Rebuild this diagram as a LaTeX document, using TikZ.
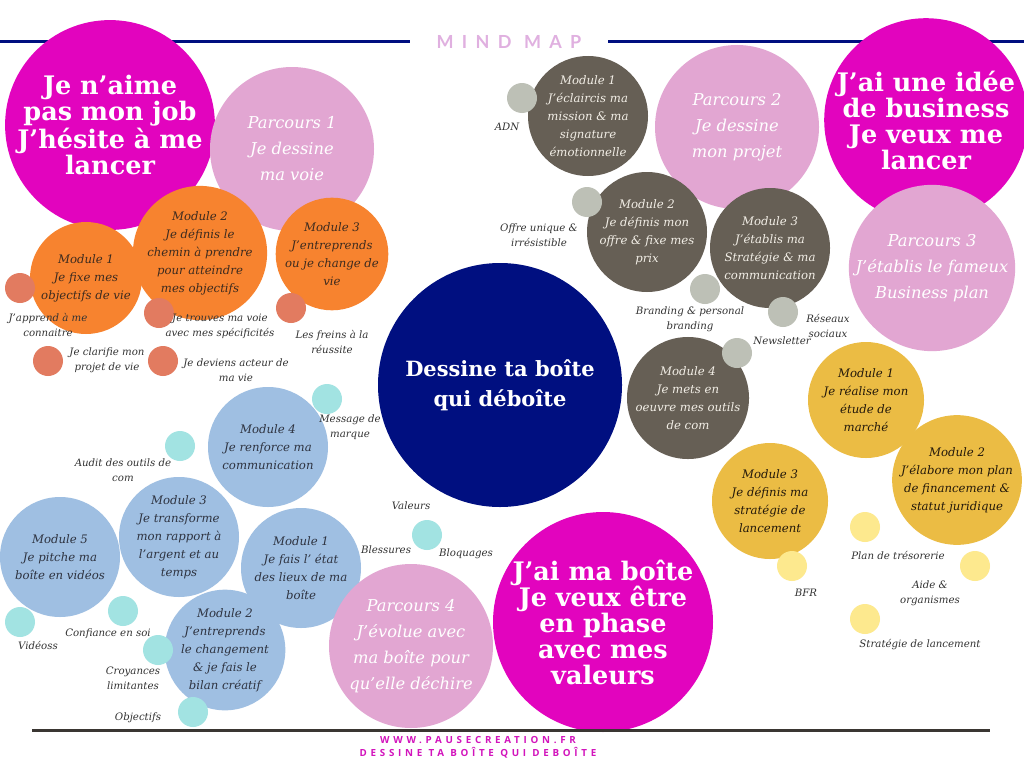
\documentclass[tikz,border=0pt]{standalone}
\usepackage{fontspec}
\setmainfont{DejaVu Serif}
\newfontfamily\titlefont[LetterSpace=46]{Lato}
\newfontfamily\footfont[LetterSpace=38]{Open Sans}

\definecolor{goalmag}{HTML}{E204BE}
\definecolor{parcpink}{HTML}{E2A6D2}
\definecolor{orangemod}{HTML}{F7832F}
\definecolor{salmondot}{HTML}{E27B60}
\definecolor{navycore}{HTML}{000F80}
\definecolor{greymod}{HTML}{665F55}
\definecolor{greydot}{HTML}{BDC0B6}
\definecolor{yellowmod}{HTML}{EBBC44}
\definecolor{yellowdot}{HTML}{FDE98E}
\definecolor{bluemod}{HTML}{9FBFE2}
\definecolor{cyandot}{HTML}{A2E3E2}
\definecolor{tagtext}{HTML}{333333}
\definecolor{footmag}{HTML}{D214BC}
\definecolor{footrule}{HTML}{3A3632}

\tikzstyle{bubble} = [circle, inner sep=0, align=center]
\tikzstyle{goal} = [bubble, fill=goalmag, text=white, font=\bfseries\fontsize{25.5}{26}\selectfont]
\tikzstyle{parcours} = [bubble, fill=parcpink, text=white, minimum size=164pt, font=\itshape\fontsize{16.3}{26}\selectfont]
\tikzstyle{module} = [bubble, minimum size=120pt, font=\itshape\fontsize{11.7}{18}\selectfont]
\tikzstyle{omod} = [module, fill=orangemod, text={rgb,255:red,61;green,43;blue,31}, minimum size=112pt]
\tikzstyle{gmod} = [module, fill=greymod, text={rgb,255:red,242;green,238;blue,230}]
\tikzstyle{ymod} = [module, fill=yellowmod, text={rgb,255:red,36;green,25;blue,11}, minimum size=116pt]
\tikzstyle{bmod} = [module, fill=bluemod, text={rgb,255:red,46;green,51;blue,64}]
\tikzstyle{dot} = [circle, inner sep=0, minimum size=30pt]
\tikzstyle{tag} = [inner sep=0, align=center, text=tagtext, font=\itshape\fontsize{10.2}{15}\selectfont]
\tikzstyle{rule} = [line width=3pt]

\begin{document}
\begin{tikzpicture}[x=1pt,y=-1pt]
  \useasboundingbox[fill=white] (0,0) rectangle (1024,768);

%Header
	\node[text={rgb,255:red,224;green,176;blue,224}, font=\titlefont\bfseries\fontsize{18}{18}\selectfont] (title) at (509,42) {MIND MAP};
	\draw[rule,navycore] (0,42) -- (410,42);
	\draw[rule,navycore] (608,42) -- (1024,42);

%Parcours 1
	\node[goal, minimum size=206pt] (goal1) at (110,125) {Je n'aime\\pas mon job\\J'hésite à me\\lancer};
	\node[parcours] (parc1) at (292,149) {Parcours 1\\Je dessine\\ma voie};
	\node[omod] (o1) at (86,278) {Module 1\\Je fixe mes\\objectifs de vie};
	\node[omod] (o2) at (200,253) {Module 2\\Je définis le\\chemin à prendre\\pour atteindre\\mes objectifs};
	\node[omod] (o3) at (332,254) {Module 3\\J'entreprends\\ou je change de\\vie};
	\node[dot, fill=salmondot] (s1) at (20,288) {};
	\node[dot, fill=salmondot] (s2) at (159,313) {};
	\node[dot, fill=salmondot] (s3) at (291,308) {};
	\node[dot, fill=salmondot] (s4) at (48,361) {};
	\node[dot, fill=salmondot] (s5) at (163,361) {};
	\node[tag] (t1) at (48,325) {J'apprend à me\\connaitre};
	\node[tag] (t2) at (107,360) {Je clarifie mon\\projet de vie};
	\node[tag] (t3) at (220,326) {Je trouves ma voie\\avec mes spécificités};
	\node[tag] (t4) at (236,370) {Je deviens acteur de\\ma vie};
	\node[tag] (t5) at (332,342) {Les freins à la\\réussite};

%Parcours 2
	\node[parcours] (parc2) at (737,127) {Parcours 2\\Je dessine\\mon projet};
	\node[gmod] (g1) at (588,116) {Module 1\\J'éclaircis ma\\mission \& ma\\signature\\émotionnelle};
	\node[gmod] (g2) at (647,232) {Module 2\\Je définis mon\\offre \& fixe mes\\prix};
	\node[gmod] (g3) at (770,248) {Module 3\\J'établis ma\\Stratégie \& ma\\communication};
	\node[gmod] (g4) at (688,398) {Module 4\\Je mets en\\oeuvre mes outils\\de com};
	\node[dot, fill=greydot] (d1) at (522,98) {};
	\node[dot, fill=greydot] (d2) at (587,202) {};
	\node[dot, fill=greydot] (d3) at (705,289) {};
	\node[dot, fill=greydot] (d4) at (783,312) {};
	\node[dot, fill=greydot] (d5) at (737,353) {};
	\node[tag] (t6) at (507,127) {ADN};
	\node[tag] (t7) at (539,235) {Offre unique \&\\irrésistible};
	\node[tag] (t8) at (690,319) {Branding \& personal\\branding};
	\node[tag] (t9) at (782,341) {Newsletter};
	\node[tag] (t10) at (828,326) {Réseaux\\sociaux};

%Parcours 3
	\node[goal, minimum size=196pt] (goal2) at (926,120) {J'ai une idée\\de business\\Je veux me\\lancer};
	\node[parcours] (parc3) at (932,268) {Parcours 3\\J'établis le fameux\\Business plan};
	\node[ymod] (y1) at (866,400) {Module 1\\Je réalise mon\\étude de\\marché};
	\node[ymod] (y2) at (957,480) {Module 2\\J'élabore mon plan\\de financement \&\\statut juridique};
	\node[ymod] (y3) at (770,501) {Module 3\\Je définis ma\\stratégie de\\lancement};
	\node[dot, fill=yellowdot] (p1) at (865,527) {};
	\node[dot, fill=yellowdot] (p2) at (975,566) {};
	\node[dot, fill=yellowdot] (p3) at (792,566) {};
	\node[dot, fill=yellowdot] (p4) at (865,619) {};
	\node[tag] (t11) at (898,555) {Plan de trésorerie};
	\node[tag] (t12) at (930,593) {Aide \&\\organismes};
	\node[tag] (t13) at (806,593) {BFR};
	\node[tag] (t14) at (920,645) {Stratégie de lancement};

%Centre
	\node[bubble, fill=navycore, text=white, minimum size=244pt, font=\bfseries\fontsize{21}{30}\selectfont] (core) at (500,385) {Dessine ta boîte\\qui déboîte};

%Parcours 4
	\node[bmod] (b4) at (268,447) {Module 4\\Je renforce ma\\communication};
	\node[bmod] (b3) at (179,537) {Module 3\\Je transforme\\mon rapport à\\l'argent et au\\temps};
	\node[bmod] (b5) at (60,557) {Module 5\\Je pitche ma\\boîte en vidéos};
	\node[bmod] (b1) at (301,568) {Module 1\\Je fais l' état\\des lieux de ma\\boîte};
	\node[bmod] (b2) at (225,650) {Module 2\\J'entreprends\\le changement\\\& je fais le\\bilan créatif};
	\node[dot, fill=cyandot] (c1) at (327,399) {};
	\node[dot, fill=cyandot] (c2) at (180,446) {};
	\node[dot, fill=cyandot] (c3) at (123,611) {};
	\node[dot, fill=cyandot] (c4) at (20,622) {};
	\node[dot, fill=cyandot] (c5) at (158,650) {};
	\node[dot, fill=cyandot] (c6) at (193,712) {};
	\node[dot, fill=cyandot] (c7) at (427,535) {};
	\node[tag] (t15) at (350,427) {Message de\\marque};
	\node[tag] (t16) at (123,470) {Audit des outils de\\com};
	\node[tag] (t17) at (108,634) {Confiance en soi};
	\node[tag] (t18) at (38,645) {Vidéoss};
	\node[tag] (t19) at (133,678) {Croyances\\limitantes};
	\node[tag] (t20) at (138,718) {Objectifs};
	\node[tag] (t21) at (411,506) {Valeurs};
	\node[tag] (t22) at (386,550) {Blessures};
	\node[tag] (t23) at (466,554) {Bloquages};
	\node[parcours] (parc4) at (411,646) {Parcours 4\\J'évolue avec\\ma boîte pour\\qu'elle déchire};
	\node[goal, minimum size=220pt] (goal3) at (603,622) {J'ai ma boîte\\Je veux être\\en phase\\avec mes\\valeurs};

%Footer
	\draw[rule,footrule] (32,730) -- (990,730);
	\node[text=footmag, font=\footfont\bfseries\fontsize{9.8}{10}\selectfont] (site) at (478,740) {WWW.PAUSECREATION.FR};
	\node[text=footmag, font=\footfont\bfseries\fontsize{9.8}{10}\selectfont] (motto) at (478,753) {DESSINE TA BOÎTE QUI DEBOÎTE};

\end{tikzpicture}
\end{document}
